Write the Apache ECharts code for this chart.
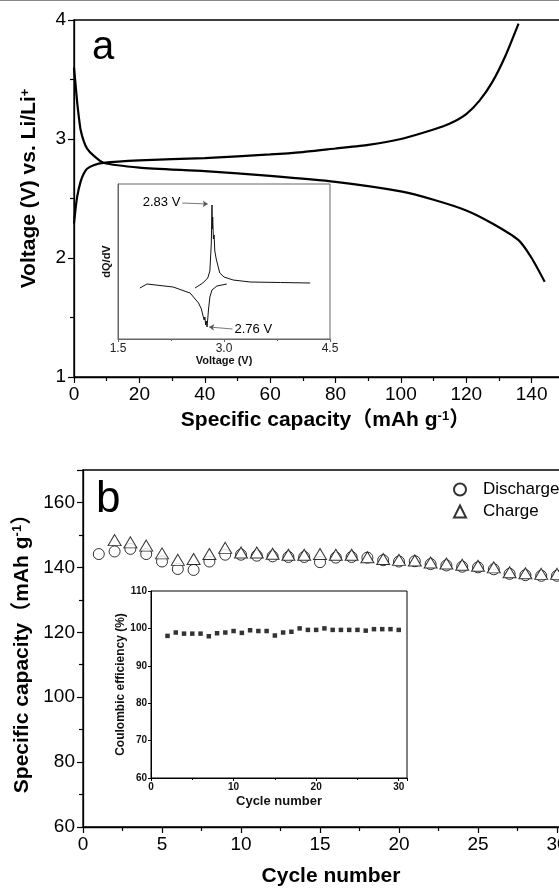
<!DOCTYPE html>
<html>
<head>
<meta charset="utf-8">
<script src="https://cdn.jsdelivr.net/npm/echarts@6/dist/echarts.min.js"></script>
<style>
  html, body { margin: 0; padding: 0; background: #fff; overflow: hidden; }
  /* the figure is cropped on the right, so the chart is wider than the window */
  #main { width: 660px; height: 888px; }
</style>
</head>
<body>
<div id="main"></div>
<script>
// (a) charge / discharge curves
const chargeCap = [0, 0.5, 1, 2, 3, 4, 6, 9, 20, 40, 60, 70, 80, 90, 100, 110, 115, 120, 124, 128, 132, 136];
const chargeV = [2.29, 2.42, 2.52, 2.64, 2.71, 2.75, 2.78, 2.80, 2.82, 2.84, 2.87, 2.89, 2.92, 2.95, 3.00, 3.08, 3.13, 3.21, 3.32, 3.48, 3.70, 3.97];
const dischargeCap = [0, 0.5, 1, 1.5, 2, 3, 4, 6, 9, 20, 40, 60, 80, 100, 110, 120, 128, 136, 140, 144];
const dischargeV = [3.60, 3.45, 3.30, 3.18, 3.08, 2.98, 2.92, 2.86, 2.80, 2.76, 2.73, 2.69, 2.64, 2.56, 2.49, 2.40, 2.29, 2.15, 2.00, 1.80];

// (a) inset dQ/dV
const dqChargeV = [2.59, 2.70, 2.77, 2.80, 2.82, 2.83, 2.835, 2.84, 2.85, 2.86, 2.87, 2.89, 2.94, 3.0, 3.13, 3.37, 3.8, 4.22];
const dqCharge = [51, 56, 61, 68, 95, 134, 110, 122, 100, 104, 88, 80, 66, 62, 59, 57, 56.5, 56];
const dqDischargeV = [1.81, 1.91, 2.28, 2.52, 2.64, 2.68, 2.70, 2.72, 2.73, 2.74, 2.75, 2.76, 2.77, 2.78, 2.80, 2.83, 2.90, 3.04];
const dqDischarge = [51, 55, 52, 46, 36, 30, 24, 19, 22, 14, 18, 12, 20, 29, 42, 49, 53, 55];

// (b) cycling
const cycles = [1,2,3,4,5,6,7,8,9,10,11,12,13,14,15,16,17,18,19,20,21,22,23,24,25,26,27,28,29,30];
const dischargeCapacity = [144.1, 144.9, 145.7, 144.1, 141.8, 139.5, 139.2, 141.8, 143.9, 143.9, 143.6, 143.4, 143.2, 143.2, 141.6, 143.0, 143.2, 143.0, 142.2, 141.8, 141.9, 141.0, 140.6, 140.2, 140.0, 139.4, 138.0, 137.6, 137.4, 137.4];
const chargeCycles = [2,3,4,5,6,7,8,9,10,11,12,13,14,15,16,17,18,19,20,21,22,23,24,25,26,27,28,29,30];
const chargeCapacity = [148.4, 147.7, 146.7, 144.3, 142.3, 142.6, 144.1, 146.0, 144.6, 144.6, 144.2, 143.9, 143.9, 144.1, 143.9, 143.9, 143.1, 142.6, 142.3, 142.1, 141.5, 141.2, 140.8, 140.5, 140.0, 138.5, 138.2, 138.0, 138.0];
const ceCycles = [2,3,4,5,6,7,8,9,10,11,12,13,14,15,16,17,18,19,20,21,22,23,24,25,26,27,28,29,30];
const coulombicEff = [98.0, 98.9, 98.6, 98.6, 98.6, 97.9, 98.7, 98.9, 99.3, 98.8, 99.5, 99.3, 99.3, 98.1, 98.9, 99.1, 100.0, 99.6, 99.6, 100.0, 99.6, 99.6, 99.6, 99.6, 99.4, 99.8, 99.8, 99.8, 99.6];

const zip = (xs, ys) => xs.map((x, i) => [x, ys[i]]);
const FONT = "'Liberation Sans', Arial, 'Noto Sans CJK SC', sans-serif";

const chart = echarts.init(document.getElementById('main'));

// name style for the big panels, pad shifts the title along its axis
function bigName(pad) {
  return {
    color: '#000', fontSize: 21, fontWeight: 'bold', fontFamily: FONT, padding: pad,
    rich: { sup: { fontSize: 13, fontWeight: 'bold', fontFamily: FONT, color: '#000', verticalAlign: 'top' } }
  };
}

// shared axis look for the two big panels
function bigAxis(extra) {
  return Object.assign({
    type: 'value',
    axisLine: { show: true, onZero: false, lineStyle: { color: '#000', width: 1.3 } },
    axisTick: { show: true, inside: false, length: 6, lineStyle: { color: '#000', width: 1.2 } },
    minorTick: { show: true, splitNumber: 2, length: 4, lineStyle: { color: '#000', width: 1.2 } },
    splitLine: { show: false },
    axisLabel: { color: '#000', fontSize: 19, fontFamily: FONT, margin: 8, showMaxLabel: false },
    nameLocation: 'middle'
  }, extra);
}

function smallAxis(extra, col, bold) {
  return Object.assign({
    type: 'value',
    axisLine: { show: true, onZero: false, lineStyle: { color: col, width: 1 } },
    axisTick: { show: true, length: 3, lineStyle: { color: col } },
    minorTick: { show: true, splitNumber: 2, length: 2, lineStyle: { color: col } },
    splitLine: { show: false },
    axisLabel: { color: '#222', fontSize: 11, fontFamily: FONT, fontWeight: bold ? 'bold' : 'normal', margin: 4 },
    nameLocation: 'middle',
    nameTextStyle: { color: '#111', fontSize: 11, fontWeight: 'bold', fontFamily: FONT }
  }, extra);
}

const option = {
  animation: false,
  backgroundColor: '#fff',
  grid: [
    { left: 74, top: 20, width: 523, height: 357, show: true, borderColor: '#000', borderWidth: 1.3 },
    { left: 118, top: 184, width: 212, height: 155, show: true, borderColor: '#666', borderWidth: 1 },
    { left: 83, top: 470, width: 553, height: 358, show: true, borderColor: '#000', borderWidth: 1.3 },
    { left: 151, top: 591, width: 256, height: 187, show: true, borderColor: '#000', borderWidth: 1 }
  ],
  xAxis: [
    bigAxis({ gridIndex: 0, min: 0, max: 160, interval: 20, name: 'Specific capacity（mAh g{sup|-1}）', nameGap: 33,
      nameTextStyle: bigName([0, 20, 0, 0]) }),
    smallAxis({ gridIndex: 1, min: 1.5, max: 4.5, interval: 1.5, name: 'Voltage (V)', nameGap: 14,
      axisLabel: { color: '#222', fontSize: 12, fontFamily: FONT, margin: 4, formatter: v => v.toFixed(1) } }, '#666', false),
    bigAxis({ gridIndex: 2, min: 0, max: 35, interval: 5, name: 'Cycle number', nameGap: 39,
      nameTextStyle: bigName([0, 57, 0, 0]) }),
    smallAxis({ gridIndex: 3, min: 0, max: 31, interval: 10, name: 'Cycle number', nameGap: 17,
      nameTextStyle: { color: '#111', fontSize: 13, fontWeight: 'bold', fontFamily: FONT },
      axisLabel: { color: '#111', fontSize: 10, fontWeight: 'bold', fontFamily: FONT, margin: 4, showMaxLabel: false } }, '#000', true)
  ],
  yAxis: [
    bigAxis({ gridIndex: 0, min: 1, max: 4, interval: 1, name: 'Voltage (V) vs. Li/Li{sup|+}', nameGap: 34,
      axisLabel: { color: '#000', fontSize: 19, fontFamily: FONT, margin: 8 },
      nameTextStyle: bigName([0, 0, 0, 20]) }),
    smallAxis({ gridIndex: 1, min: 0, max: 155, name: 'dQ/dV', nameGap: 6,
      axisTick: { show: false }, minorTick: { show: false }, axisLabel: { show: false } }, '#666', false),
    bigAxis({ gridIndex: 2, min: 60, max: 170, interval: 20, name: 'Specific capacity（mAh g{sup|-1}）', nameGap: 44,
      nameTextStyle: bigName([0, 0, 0, 0]) }),
    smallAxis({ gridIndex: 3, min: 60, max: 110, interval: 10, name: 'Coulombic efficiency (%)', nameGap: 23,
      minorTick: { show: false },
      nameTextStyle: { color: '#111', fontSize: 12, fontWeight: 'bold', fontFamily: FONT },
      axisLabel: { color: '#111', fontSize: 10, fontWeight: 'bold', fontFamily: FONT, margin: 4 } }, '#000', true)
  ],
  legend: {
    data: [
      { name: 'Discharge', icon: 'circle' },
      { name: 'Charge', icon: 'triangle' }
    ],
    orient: 'vertical',
    left: 448, top: 476,
    itemWidth: 12, itemHeight: 12, itemGap: 5,
    textStyle: { color: '#000', fontSize: 17, fontFamily: FONT, padding: [0, 0, 0, 12] }
  },
  series: [
    { type: 'line', xAxisIndex: 0, yAxisIndex: 0, data: zip(chargeCap, chargeV), showSymbol: false,
      smooth: 0.2, lineStyle: { color: '#000', width: 2.2 } },
    { type: 'line', xAxisIndex: 0, yAxisIndex: 0, data: zip(dischargeCap, dischargeV), showSymbol: false,
      smooth: 0.2, lineStyle: { color: '#000', width: 2.2 } },
    { type: 'line', xAxisIndex: 1, yAxisIndex: 1, data: zip(dqChargeV, dqCharge), showSymbol: false,
      lineStyle: { color: '#111', width: 1 },
      markLine: {
        silent: true, symbol: ['none', 'arrow'], symbolSize: 5,
        lineStyle: { color: '#555', width: 0.8, type: 'solid' },
        label: { position: 'start', color: '#000', fontSize: 13, fontFamily: FONT, distance: 2 },
        data: [
          [{ coord: [2.41, 136], name: '2.83 V', label: { formatter: '2.83 V' } }, { coord: [2.77, 135] }],
          [{ coord: [3.12, 10], name: '2.76 V', label: { formatter: '2.76 V' } }, { coord: [2.79, 12] }]
        ]
      } },
    { type: 'line', xAxisIndex: 1, yAxisIndex: 1, data: zip(dqDischargeV, dqDischarge), showSymbol: false,
      lineStyle: { color: '#111', width: 1 } },
    { name: 'Discharge', type: 'scatter', xAxisIndex: 2, yAxisIndex: 2, data: zip(cycles, dischargeCapacity),
      symbol: 'circle', symbolSize: 11,
      itemStyle: { color: '#fff', borderColor: '#000', borderWidth: 1 } },
    { name: 'Charge', type: 'scatter', xAxisIndex: 2, yAxisIndex: 2, data: zip(chargeCycles, chargeCapacity),
      symbol: 'triangle', symbolSize: [13, 11],
      itemStyle: { color: '#fff', borderColor: '#000', borderWidth: 1 } },
    { type: 'scatter', xAxisIndex: 3, yAxisIndex: 3, data: zip(ceCycles, coulombicEff),
      symbol: 'rect', symbolSize: 4.5, itemStyle: { color: '#000' } }
  ],
  graphic: [
    { type: 'line', shape: { x1: 0, y1: 0.5, x2: 660, y2: 0.5 }, style: { stroke: '#888', lineWidth: 1 } },
    { type: 'text', left: 92, top: 28, style: { text: 'a', fontSize: 40, fontFamily: FONT, fill: '#000' } },
    { type: 'text', left: 96, top: 478, style: { text: 'b', fontSize: 44, fontFamily: FONT, fill: '#000' } }
  ]
};

chart.setOption(option);
</script>
</body>
</html>
